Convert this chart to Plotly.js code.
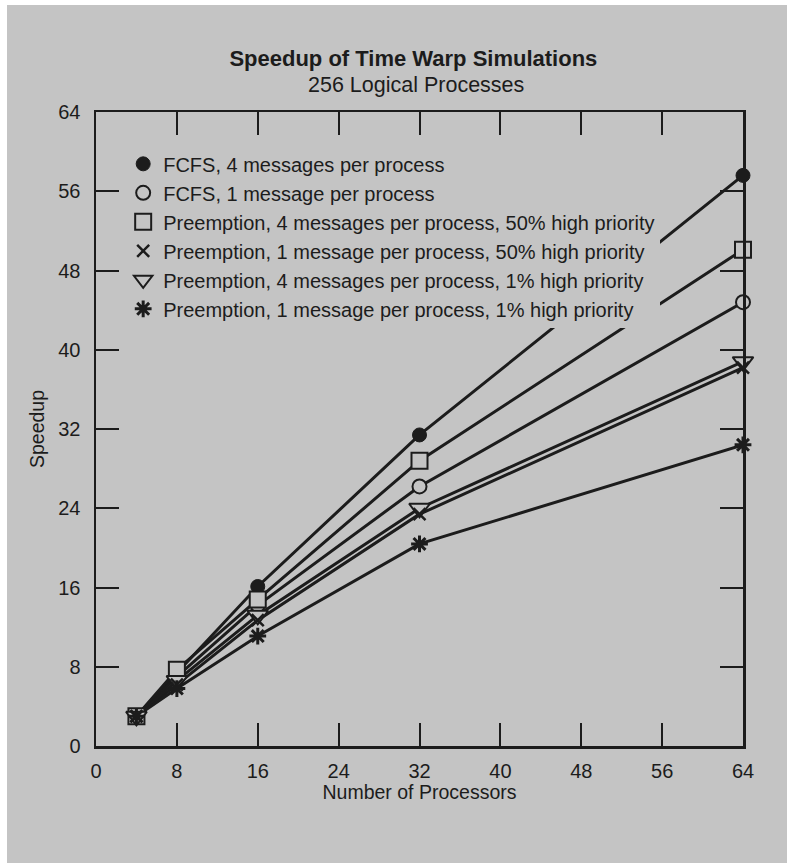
<!DOCTYPE html>
<html>
<head>
<meta charset="utf-8">
<script src="https://cdn.plot.ly/plotly-3.0.1.min.js"></script>
<style>
html, body { margin: 0; padding: 0; background: #ffffff; }
#chart { position: absolute; left: 7px; top: 5px; width: 780px; height: 858px; }
</style>
</head>
<body>
<div id="chart"></div>
<script>
// ---- data ----
const processors = [4, 8, 16, 32, 64];
const fcfs4 = [3.0, 7.4, 16.1, 31.4, 57.6];
const fcfs1 = [3.0, 7.0, 14.2, 26.2, 44.8];
const pre4_50 = [3.0, 7.7, 14.8, 28.8, 50.1];
const pre1_50 = [3.0, 6.2, 12.7, 23.4, 38.2];
const pre4_1 = [3.0, 6.6, 13.2, 24.0, 38.8];
const pre1_1 = [3.0, 5.8, 11.1, 20.4, 30.4];
const seriesNames = [
  'FCFS, 4 messages per process',
  'FCFS, 1 message per process',
  'Preemption, 4 messages per process, 50% high priority',
  'Preemption, 1 message per process, 50% high priority',
  'Preemption, 4 messages per process, 1% high priority',
  'Preemption, 1 message per process, 1% high priority'
];
const xTicks = [0, 8, 16, 24, 32, 40, 48, 56, 64];
const yTicks = [0, 8, 16, 24, 32, 40, 48, 56, 64];

// ---- styling ----
const BG = '#c4c4c4';
const INK = '#1c1c1c';
const FONT = '"Liberation Sans", Arial, Helvetica, sans-serif';

const seriesValues = [fcfs4, fcfs1, pre4_50, pre1_50, pre4_1, pre1_1];
const markerStyles = [
  {symbol: 'circle', size: 14, color: INK, line: {color: INK, width: 1}},
  {symbol: 'circle', size: 14, color: BG, line: {color: INK, width: 2}},
  {symbol: 'square', size: 16, color: BG, line: {color: INK, width: 2}},
  {symbol: 'x-thin-open', size: 12, color: INK, line: {color: INK, width: 2.5}},
  {symbol: 'triangle-down', size: 18, color: BG, line: {color: INK, width: 2}},
  {symbol: 'asterisk-open', size: 14, color: INK, line: {color: INK, width: 3}}
];
// draw order so the x sits on top of the triangle
const drawOrder = [0, 1, 2, 4, 3, 5];

const traces = [];
seriesValues.forEach((vals, i) => {
  traces.push({
    x: processors, y: vals, mode: 'lines', type: 'scatter',
    line: {color: INK, width: 3}, showlegend: false, hoverinfo: 'skip',
    cliponaxis: false
  });
});
drawOrder.forEach((i) => {
  traces.push({
    x: processors, y: seriesValues[i], mode: 'markers', type: 'scatter',
    name: seriesNames[i], legendrank: i + 1,
    marker: markerStyles[i], cliponaxis: false
  });
});

const axisCommon = {
  showgrid: false, zeroline: false, showline: true, linewidth: 2.5, linecolor: INK,
  ticks: 'inside', ticklen: 23, tickwidth: 2, tickcolor: INK, mirror: 'ticks',
  tickfont: {family: FONT, size: 20, color: INK}, fixedrange: true
};

const layout = {
  width: 780, height: 858,
  paper_bgcolor: BG, plot_bgcolor: BG,
  margin: {l: 89, r: 44, t: 107, b: 117},
  font: {family: FONT, color: INK},
  title: {
    text: '<b>Speedup of Time Warp Simulations</b>',
    font: {family: FONT, size: 22, color: INK},
    xref: 'container', yref: 'container', x: 0.521, y: 0.938,
    xanchor: 'center', yanchor: 'middle'
  },
  annotations: [{
    text: '256 Logical Processes', xref: 'paper', yref: 'paper',
    x: 0.4946, y: 1.0426, xanchor: 'center', yanchor: 'middle', showarrow: false,
    font: {family: FONT, size: 21.5, color: INK}
  }],
  xaxis: Object.assign({}, axisCommon, {
    range: [0, 64], tickvals: xTicks, ticktext: xTicks.map(String),
    ticklabelstandoff: 5,
    title: {text: 'Number of Processors', font: {family: FONT, size: 19.5, color: INK}, standoff: 2}
  }),
  yaxis: Object.assign({}, axisCommon, {
    range: [0, 64], tickvals: yTicks, ticktext: yTicks.map(String),
    ticklabelstandoff: 9,
    title: {text: 'Speedup', font: {family: FONT, size: 19.5, color: INK}, standoff: 9}
  }),
  legend: {
    x: 0.042, y: 0.949, xanchor: 'left', yanchor: 'top',
    bgcolor: BG, borderwidth: 0,
    font: {family: FONT, size: 20, color: INK},
    traceorder: 'normal', tracegroupgap: 0,
    itemclick: false, itemdoubleclick: false
  },
  showlegend: true
};

Plotly.newPlot('chart', traces, layout, {displayModeBar: false, staticPlot: true});
</script>
</body>
</html>
